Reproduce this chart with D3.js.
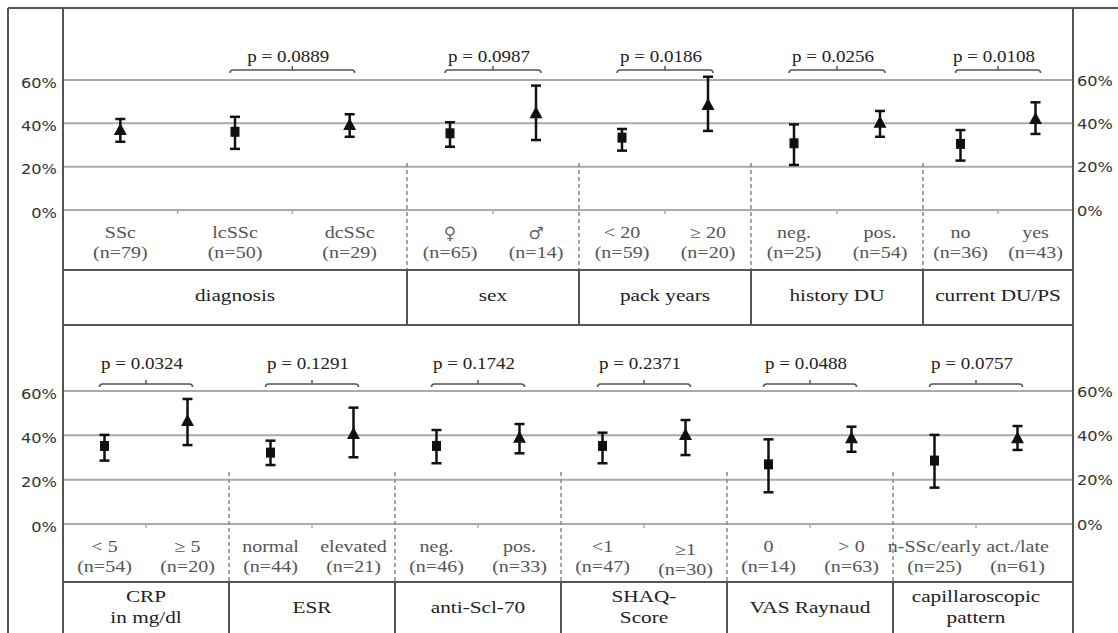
<!DOCTYPE html>
<html>
<head>
<meta charset="utf-8">
<script src="https://cdn.jsdelivr.net/npm/d3@7"></script>
<style>
	body { margin: 0; background: #fff; }
	svg { display: block; }
	.serif { font-family: "Liberation Serif", Tinos, "Times New Roman", serif; }
	.sans { font-family: "DejaVu Sans", Verdana, sans-serif; }
</style>
</head>
<body>
<div id="chart"></div>
<script>
// ---- data: top panel
var topGroups = ["diagnosis", "sex", "pack years", "history DU", "current DU/PS"];
var topCats = ["SSc", "lcSSc", "dcSSc", "\u2640", "\u2642", "< 20", "\u2265 20", "neg.", "pos.", "no", "yes"];
var topN = [79, 50, 29, 65, 14, 59, 20, 25, 54, 36, 43];
var topGroupOf = [0, 0, 0, 1, 1, 2, 2, 3, 3, 4, 4];
var topMarker = ["tri", "sq", "tri", "sq", "tri", "sq", "tri", "sq", "tri", "sq", "tri"];
var topMean = [36.9, 36.1, 39.2, 35.4, 44.6, 33.4, 48.5, 30.8, 40.3, 30.5, 42.0];
var topLow  = [31.5, 28.2, 33.8, 29.2, 32.3, 27.4, 36.5, 20.8, 33.8, 22.8, 35.1];
var topHigh = [42.0, 43.0, 44.2, 40.5, 57.4, 37.4, 61.5, 39.5, 45.7, 36.9, 49.7];
var topP = ["0.0889", "0.0987", "0.0186", "0.0256", "0.0108"];
var topPair = [[1, 2], [3, 4], [5, 6], [7, 8], [9, 10]];

// ---- data: bottom panel
var botGroups = ["CRP\nin mg/dl", "ESR", "anti-Scl-70", "SHAQ-\nScore", "VAS Raynaud", "capillaroscopic\npattern"];
var botCats = ["< 5", "\u2265 5", "normal", "elevated", "neg.", "pos.", "<1", "\u22651", "0", "> 0", "n-SSc/early", "act./late"];
var botN = [54, 20, 44, 21, 46, 33, 47, 30, 14, 63, 25, 61];
var botGroupOf = [0, 0, 1, 1, 2, 2, 3, 3, 4, 4, 5, 5];
var botMarker = ["sq", "tri", "sq", "tri", "sq", "tri", "sq", "tri", "sq", "tri", "sq", "tri"];
var botMean = [35.2, 46.5, 32.2, 40.6, 35.2, 38.9, 35.2, 40.1, 26.9, 38.7, 28.6, 38.7];
var botLow  = [28.6, 35.6, 26.6, 30.1, 27.4, 31.9, 27.4, 31.1, 14.3, 32.6, 16.4, 33.4];
var botHigh = [40.2, 56.4, 37.6, 52.5, 42.4, 45.1, 41.2, 46.9, 38.2, 43.9, 40.2, 44.2];
var botP = ["0.0324", "0.1291", "0.1742", "0.2371", "0.0488", "0.0757"];
var botPair = [[0, 1], [2, 3], [4, 5], [6, 7], [8, 9], [10, 11]];

var yTicks = [0, 20, 40, 60];

var W = 1118, H = 633;
var left = 63, right = 1073;

var svg = d3.select("#chart").append("svg")
	.attr("width", W)
	.attr("height", H);

// text is horizontally stretched in the source picture
function label(g, x, y, txt, size, color, cls, anchor, sx) {
	var lines = txt.split("\n");
	var lh = size * 1.25;
	lines.forEach(function (t, i) {
		g.append("text")
			.attr("class", cls || "serif")
			.attr("transform", "translate(" + x + "," + (y + (i - (lines.length - 1) / 2) * lh) + ") scale(" + (sx || 1.25) + ",1)")
			.attr("text-anchor", anchor || "middle")
			.attr("dominant-baseline", "central")
			.style("font-size", size + "px")
			.style("fill", color)
			.text(t);
	});
}

function panel(cfg) {
	var g = svg.append("g");

	// group spans in units (a group with 3 categories takes 2 units)
	var spans = cfg.groups.map(function (d, i) {
		return cfg.groupOf.filter(function (v) { return v === i; }).length > 2 ? 2 : 1;
	});
	var starts = [], acc = 0;
	spans.forEach(function (s) { starts.push(acc); acc += s; });

	var x = d3.scaleLinear().domain([0, 6]).range([left, left + 6 * cfg.unit]);
	var y = d3.scaleLinear().domain([0, 60]).range([cfg.y0, cfg.y60]);

	function gStart(gi) { return x(starts[gi]); }
	function gEnd(gi) { return Math.min(x(starts[gi] + spans[gi]), right); }
	function members(gi) {
		return cfg.groupOf.map(function (v, j) { return v === gi ? j : -1; }).filter(function (j) { return j >= 0; });
	}
	function catX(i) {
		var gi = cfg.groupOf[i], m = members(gi), k = m.indexOf(i);
		return gStart(gi) + (gEnd(gi) - gStart(gi)) * (k + 0.5) / m.length;
	}
	function catEdge(i) {
		var gi = cfg.groupOf[i], m = members(gi), k = m.indexOf(i);
		return gStart(gi) + (gEnd(gi) - gStart(gi)) * (k + 1) / m.length;
	}

	// gridlines
	g.selectAll(".grid").data(yTicks).enter().append("line")
		.attr("x1", left).attr("x2", right)
		.attr("y1", function (d) { return y(d); })
		.attr("y2", function (d) { return y(d); })
		.attr("stroke", "#aaa").attr("stroke-width", 2);

	// axis labels left / right
	yTicks.forEach(function (t) {
		label(g, left - 6, y(t) + 3, t + "%", 13.5, "#333", "sans", "end", 1.2);
		label(g, right + 4, y(t) + 1, t + "%", 13.5, "#333", "sans", "start", 1.2);
	});

	// small ticks between categories in same group
	cfg.cats.forEach(function (c, i) {
		if (i < cfg.cats.length - 1 && cfg.groupOf[i + 1] === cfg.groupOf[i]) {
			var ex = catEdge(i);
			g.append("line").attr("x1", ex).attr("x2", ex)
				.attr("y1", y(0)).attr("y2", y(0) + 4)
				.attr("stroke", "#aaa").attr("stroke-width", 1.5);
		}
	});

	// group separators: dashed in plot, solid in group row
	cfg.groups.slice(1).forEach(function (d, k) {
		var sx = gStart(k + 1);
		g.append("line").attr("x1", sx).attr("x2", sx)
			.attr("y1", cfg.dashTop).attr("y2", cfg.rowLine)
			.attr("stroke", "#888").attr("stroke-width", 1.5)
			.attr("stroke-dasharray", "4,3");
		g.append("line").attr("x1", sx).attr("x2", sx)
			.attr("y1", cfg.rowLine).attr("y2", cfg.rowBottom)
			.attr("stroke", "#555").attr("stroke-width", 2);
	});

	// horizontal row line
	g.append("line").attr("x1", left).attr("x2", right)
		.attr("y1", cfg.rowLine).attr("y2", cfg.rowLine)
		.attr("stroke", "#555").attr("stroke-width", 2);

	// category labels
	cfg.cats.forEach(function (c, i) {
		var cx = catX(i);
		var dy = c === "\u22651" ? 3 : 0;
		var sym = c === "\u2640" || c === "\u2642";
		if (sym) label(g, cx, cfg.labY, c, 17, "#666", "sans", "middle", 1);
		else label(g, cx, cfg.labY + dy, c, 16, "#555");
		label(g, cx, cfg.labY + 20 + dy, "(n=" + cfg.n[i] + ")", 16, "#555");
	});

	// group labels
	cfg.groups.forEach(function (t, i) {
		label(g, (gStart(i) + gEnd(i)) / 2, cfg.groupY, t, 17, "#222");
	});

	// brackets + p
	cfg.pair.forEach(function (p, i) {
		var x1 = catX(p[0]) - 5, x2 = catX(p[1]) + 5, xm = (x1 + x2) / 2;
		var by = cfg.bracketY;
		g.append("path")
			.attr("d", "M" + x1 + "," + (by + 3) + " Q" + x1 + "," + by + " " + (x1 + 3) + "," + by +
				" L" + (x2 - 3) + "," + by + " Q" + x2 + "," + by + " " + x2 + "," + (by + 3) +
				" M" + xm + "," + by + " L" + xm + "," + (by - 4))
			.attr("fill", "none").attr("stroke", "#555").attr("stroke-width", 1.5);
		label(g, xm - 4, cfg.pY, "p = " + cfg.p[i], 17, "#222", "serif", "middle", 1.12);
	});

	// error bars and markers
	cfg.cats.forEach(function (c, i) {
		var cx = catX(i);
		g.append("line").attr("x1", cx).attr("x2", cx)
			.attr("y1", y(cfg.low[i])).attr("y2", y(cfg.high[i]))
			.attr("stroke", "#111").attr("stroke-width", 2.5);
		[cfg.low[i], cfg.high[i]].forEach(function (v) {
			g.append("line").attr("x1", cx - 5).attr("x2", cx + 5)
				.attr("y1", y(v)).attr("y2", y(v))
				.attr("stroke", "#111").attr("stroke-width", 2.5);
		});
		var my = y(cfg.mean[i]);
		if (cfg.marker[i] === "sq") {
			g.append("rect").attr("x", cx - 4.5).attr("y", my - 5)
				.attr("width", 9).attr("height", 10).attr("fill", "#111");
		} else {
			g.append("path")
				.attr("d", "M" + cx + "," + (my - 7) + " L" + (cx + 6.5) + "," + (my + 5) + " L" + (cx - 6.5) + "," + (my + 5) + " Z")
				.attr("fill", "#111");
		}
	});
}

panel({
	groups: topGroups, cats: topCats, n: topN, groupOf: topGroupOf, marker: topMarker,
	mean: topMean, low: topLow, high: topHigh, p: topP, pair: topPair,
	unit: 172, y0: 210, y60: 80, dashTop: 163, rowLine: 270, rowBottom: 325,
	labY: 233, groupY: 295, bracketY: 70, pY: 56
});

panel({
	groups: botGroups, cats: botCats, n: botN, groupOf: botGroupOf, marker: botMarker,
	mean: botMean, low: botLow, high: botHigh, p: botP, pair: botPair,
	unit: 166, y0: 524, y60: 391, dashTop: 472, rowLine: 582, rowBottom: 633,
	labY: 547, groupY: 607, bracketY: 384, pY: 363
});

// frame lines
var frame = svg.append("g").attr("stroke", "#555").attr("stroke-width", 2);
frame.append("line").attr("x1", 8).attr("x2", W).attr("y1", 8).attr("y2", 8);
frame.append("line").attr("x1", 8).attr("x2", 8).attr("y1", 8).attr("y2", H);
frame.append("line").attr("x1", left).attr("x2", left).attr("y1", 8).attr("y2", H);
frame.append("line").attr("x1", right).attr("x2", right).attr("y1", 8).attr("y2", H);
frame.append("line").attr("x1", left).attr("x2", right).attr("y1", 325).attr("y2", 325);
</script>
</body>
</html>
